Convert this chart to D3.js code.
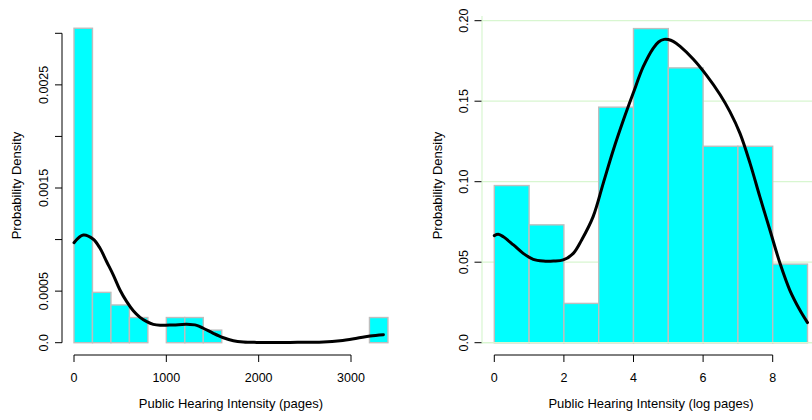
<!DOCTYPE html>
<html>
<head>
<meta charset="utf-8">
<script src="https://cdn.jsdelivr.net/npm/d3@7"></script>
<style>
  html, body { margin: 0; padding: 0; background: #fff; }
  svg { display: block; font-family: "Liberation Sans", Arial, Helvetica, sans-serif; }
</style>
</head>
<body>
<svg id="chart" width="812" height="420"></svg>
<script>
// Histogram bins (raw pages, width 200) and their densities
const pageBinStarts = [0, 200, 400, 600, 800, 1000, 1200, 1400, 1600, 1800, 2000, 2200, 2400, 2600, 2800, 3000, 3200];
const pageBinWidth = 200;
const pageDensity = [0.003049, 0.000488, 0.000366, 0.000244, 0, 0.000244, 0.000244, 0.000122, 0, 0, 0, 0, 0, 0, 0, 0, 0.000244];

// Histogram bins (log pages, width 1) and their densities
const logBinStarts = [0, 1, 2, 3, 4, 5, 6, 7, 8];
const logBinWidth = 1;
const logDensity = [0.0976, 0.0732, 0.0244, 0.1463, 0.1951, 0.1707, 0.1220, 0.1220, 0.0488];

// Kernel density estimate, raw pages
const pageKdeX = [0, 101, 209, 282, 354, 426, 498, 571, 642, 715, 788, 859, 932, 1076, 1221, 1329, 1401, 1509, 1618, 1726, 1834, 1979, 2340, 2701, 2882, 3063, 3207, 3351];
const pageKdeY = [0.000970, 0.001044, 0.001003, 0.000915, 0.000785, 0.000656, 0.000511, 0.000398, 0.000310, 0.000246, 0.000204, 0.000178, 0.000169, 0.000172, 0.000178, 0.000168, 0.000140, 0.000091, 0.000048, 0.000019, 0.000007, 0.000003, 0.000003, 0.000007, 0.000019, 0.000043, 0.000065, 0.000078];

// Kernel density estimate, log pages
const logKdeX = [0, 0.115, 0.26, 0.55, 0.83, 1.12, 1.41, 1.70, 1.98, 2.27, 2.51, 2.84, 3.13, 3.42, 3.71, 3.99, 4.28, 4.57, 4.72, 4.88, 5.0, 5.14, 5.34, 5.72, 6.10, 6.49, 6.77, 7.06, 7.35, 7.63, 7.92, 8.21, 8.49, 8.78, 9.0];
const logKdeY = [0.0665, 0.0673, 0.0658, 0.0607, 0.0555, 0.0518, 0.0507, 0.0507, 0.0514, 0.0555, 0.0638, 0.0783, 0.0990, 0.1197, 0.1383, 0.1549, 0.1714, 0.1830, 0.1868, 0.1884, 0.1883, 0.1872, 0.1840, 0.1760, 0.1660, 0.1540, 0.1435, 0.1300, 0.1114, 0.0907, 0.0700, 0.0493, 0.0327, 0.0203, 0.0125];

// Axis ticks and labels
const pageXTicks = [0, 1000, 2000, 3000];
const pageYTicks = [0, 0.0005, 0.001, 0.0015, 0.002, 0.0025, 0.003];
const pageYLabels = ["0.0", "0.0005", "", "0.0015", "", "0.0025", ""];
const logXTicks = [0, 2, 4, 6, 8];
const logYTicks = [0, 0.05, 0.10, 0.15, 0.20];
const logYLabels = ["0.0", "0.05", "0.10", "0.15", "0.20"];

const svg = d3.select("#chart");
const BAR_FILL = "#00ffff", BAR_EDGE = "#bebebe", GRID = "#d8f6d0";
const TICK_FONT = 12.5, TITLE_FONT = 13;

function panel(cfg) {
  const g = svg.append("g");
  const x = d3.scaleLinear().domain(cfg.xDomain).range(cfg.xRange);
  const y = d3.scaleLinear().domain(cfg.yDomain).range([342.7, cfg.yTop]);
  const yAxisX = cfg.yAxisX, xAxisY = 355;

  // horizontal grid (log panel only)
  if (cfg.grid) {
    g.selectAll("line.hgrid").data(cfg.yTicks).join("line")
      .attr("x1", yAxisX + 0.5).attr("x2", 812)
      .attr("y1", d => y(d)).attr("y2", d => y(d))
      .attr("stroke", GRID).attr("stroke-width", 1.2);
  }

  // histogram bars
  g.selectAll("rect.bar").data(cfg.binStarts.map((s, i) => ({ s, d: cfg.dens[i] })).filter(b => b.d > 0))
    .join("rect")
    .attr("x", b => x(b.s))
    .attr("width", b => x(b.s + cfg.binWidth) - x(b.s))
    .attr("y", b => y(b.d))
    .attr("height", b => y(0) - y(b.d))
    .attr("fill", BAR_FILL).attr("stroke", BAR_EDGE).attr("stroke-width", 1.4);

  // the zero line and the vertical rule, drawn over the bars
  if (cfg.grid) {
    g.append("line").attr("x1", yAxisX + 0.5).attr("x2", 812)
      .attr("y1", y(0)).attr("y2", y(0)).attr("stroke", GRID).attr("stroke-width", 1.2);
    g.append("line").attr("x1", yAxisX + 0.5).attr("x2", yAxisX + 0.5)
      .attr("y1", 16).attr("y2", 344).attr("stroke", GRID).attr("stroke-width", 1.2);
  }

  // density curve
  const pts = cfg.kdeX.map((v, i) => [v, cfg.kdeY[i]]);
  g.append("path").datum(pts)
    .attr("d", d3.line().x(d => x(d[0])).y(d => y(d[1])).curve(d3.curveCatmullRom.alpha(0.5)))
    .attr("fill", "none").attr("stroke", "#000").attr("stroke-width", 3)
    .attr("stroke-linecap", "round").attr("stroke-linejoin", "round");

  // x axis
  const xa = g.append("g").attr("transform", `translate(0,${xAxisY})`);
  xa.append("line").attr("x1", x(cfg.xTicks[0])).attr("x2", x(cfg.xTicks[cfg.xTicks.length - 1]))
    .attr("stroke", "#000").attr("stroke-width", 1);
  xa.selectAll("line.t").data(cfg.xTicks).join("line")
    .attr("x1", d => x(d)).attr("x2", d => x(d)).attr("y1", 0).attr("y2", 7)
    .attr("stroke", "#000").attr("stroke-width", 1);
  xa.selectAll("text").data(cfg.xTicks).join("text")
    .attr("x", d => x(d)).attr("y", 27)
    .attr("text-anchor", "middle").attr("font-size", TICK_FONT).attr("fill", "#000")
    .text(d => d3.format("d")(d));

  // y axis
  const ya = g.append("g").attr("transform", `translate(${yAxisX},0)`);
  if (!cfg.grid) {
    ya.append("line").attr("y1", y(cfg.yTicks[0])).attr("y2", y(cfg.yTicks[cfg.yTicks.length - 1]))
      .attr("stroke", "#000").attr("stroke-width", 1);
  }
  ya.selectAll("line.t").data(cfg.yTicks).join("line")
    .attr("x1", -7).attr("x2", 0).attr("y1", d => y(d)).attr("y2", d => y(d))
    .attr("stroke", "#000").attr("stroke-width", 1);
  ya.selectAll("text").data(cfg.yTicks.map((t, i) => ({ t, l: cfg.yLabels[i] })).filter(d => d.l))
    .join("text")
    .attr("transform", d => `translate(${cfg.yLabelX - yAxisX},${y(d.t)}) rotate(-90)`)
    .attr("text-anchor", "middle").attr("dominant-baseline", "central")
    .attr("font-size", TICK_FONT).attr("fill", "#000")
    .text(d => d.l);

  // axis titles
  g.append("text").attr("x", cfg.xTitleX).attr("y", 407.5)
    .attr("text-anchor", "middle").attr("font-size", TITLE_FONT).attr("fill", "#000")
    .text(cfg.xTitle);
  g.append("text")
    .attr("transform", `translate(${cfg.yTitleX},185.5) rotate(-90)`)
    .attr("text-anchor", "middle").attr("dominant-baseline", "central")
    .attr("font-size", TITLE_FONT).attr("fill", "#000")
    .text("Probability Density");
}

panel({
  xDomain: [0, 3000], xRange: [74, 351],
  yDomain: [0, 0.003], yTop: 33.3,
  yAxisX: 62, yLabelX: 44, yTitleX: 16, xTitleX: 231,
  binStarts: pageBinStarts, binWidth: pageBinWidth, dens: pageDensity,
  kdeX: pageKdeX, kdeY: pageKdeY,
  xTicks: pageXTicks, yTicks: pageYTicks, yLabels: pageYLabels,
  xTitle: "Public Hearing Intensity (pages)", grid: false
});

panel({
  xDomain: [0, 8], xRange: [494.3, 772.7],
  yDomain: [0, 0.2], yTop: 20.7,
  yAxisX: 481.5, yLabelX: 464, yTitleX: 437.5, xTitleX: 651,
  binStarts: logBinStarts, binWidth: logBinWidth, dens: logDensity,
  kdeX: logKdeX, kdeY: logKdeY,
  xTicks: logXTicks, yTicks: logYTicks, yLabels: logYLabels,
  xTitle: "Public Hearing Intensity (log pages)", grid: true
});
</script>
</body>
</html>
